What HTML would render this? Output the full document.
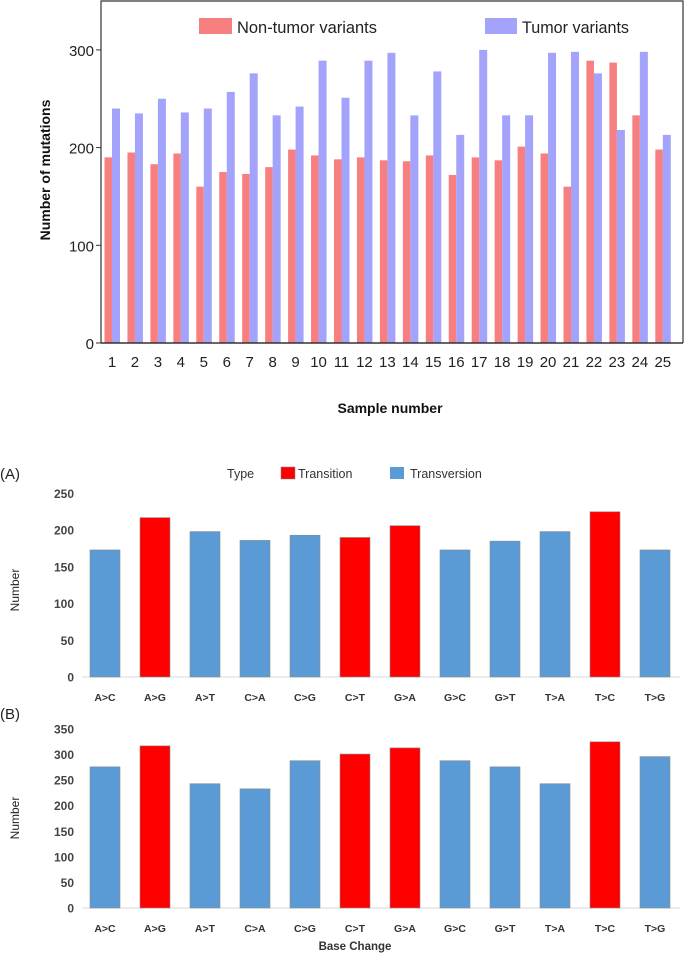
<!DOCTYPE html>
<html><head><meta charset="utf-8"><style>
html,body{margin:0;padding:0;background:#fff;}
svg{display:block;font-family:"Liberation Sans",sans-serif;}
</style></head><body>
<svg id="s" width="685" height="959" viewBox="0 0 685 959" xmlns="http://www.w3.org/2000/svg">
<g id="topchart">
<path d="M101,343 L101,1 L683,1 L683,343" fill="none" stroke="#333" stroke-width="1.2"/>
<rect x="199" y="18" width="33" height="16" fill="#f87f7f"/>
<text x="237" y="33" font-size="17" textLength="140" lengthAdjust="spacingAndGlyphs" fill="#222">Non-tumor variants</text>
<rect x="485" y="18" width="32" height="16" fill="#a3a3fb"/>
<text x="522" y="33" font-size="17" textLength="107" lengthAdjust="spacingAndGlyphs" fill="#222">Tumor variants</text>
<text transform="translate(50,170) rotate(-90)" text-anchor="middle" font-size="14" font-weight="bold" fill="#111">Number of mutations</text>
<text x="390" y="413" text-anchor="middle" font-size="14" font-weight="bold" fill="#111">Sample number</text>
</g>
<g id="ga">
<text x="0" y="479" font-size="15" fill="#222">(A)</text>
<text x="227" y="478" font-size="12.5" fill="#333">Type</text>
<rect x="281" y="467" width="14" height="12" fill="#ff0000" stroke="#888" stroke-width="0.5"/>
<text x="298" y="478" font-size="12.5" fill="#333">Transition</text>
<rect x="390" y="467" width="14" height="12" fill="#5b9bd5"/>
<text x="410" y="478" font-size="12.5" fill="#333">Transversion</text>
<text transform="translate(19,590) rotate(-90)" text-anchor="middle" font-size="12" fill="#222">Number</text>
</g>
<g id="gb">
<text x="0" y="719" font-size="15" fill="#222">(B)</text>
<text transform="translate(19,818) rotate(-90)" text-anchor="middle" font-size="12" fill="#222">Number</text>
<text x="355" y="950" text-anchor="middle" font-size="11.5" font-weight="bold" fill="#333">Base Change</text>
</g>
</svg>
<script>
const samples = ["1","2","3","4","5","6","7","8","9","10","11","12","13","14","15","16","17","18","19","20","21","22","23","24","25"];
const nonTumor = [190,195,183,194,160,175,173,180,198,192,188,190,187,186,192,172,190,187,201,194,160,289,287,233,198];
const tumor = [240,235,250,236,240,257,276,233,242,289,251,289,297,233,278,213,300,233,233,297,298,276,218,298,213];
const topTicks = [0,100,200,300];
const baseChanges = ["A>C","A>G","A>T","C>A","C>G","C>T","G>A","G>C","G>T","T>A","T>C","T>G"];
const isTransition = [false,true,false,false,false,true,true,false,false,false,true,false];
const countsA = [173,217,198,186,193,190,206,173,185,198,225,173];
const countsB = [276,317,243,233,288,301,313,288,276,243,325,296];
const ticksA = [0,50,100,150,200,250];
const ticksB = [0,50,100,150,200,250,300,350];

const NS = "http://www.w3.org/2000/svg";
function mk(parent, tag, attrs, text){
  const e = document.createElementNS(NS, tag);
  for (const k in attrs) e.setAttribute(k, attrs[k]);
  if (text !== undefined) e.textContent = text;
  parent.appendChild(e);
  return e;
}
const topG = document.getElementById('topchart');
const yTop = v => 343 - v * 0.977;
const xTop = i => 112 + i * 22.95;
topTicks.forEach(t => {
  const l = mk(topG,'line',{x1:96,x2:101,y1:yTop(t),y2:yTop(t),stroke:'#333'});
  
  
  const tx = mk(topG,'text',{x:94,y:yTop(t)+6,'text-anchor':'end','font-size':15,fill:'#222'}, String(t));
  
  
});
samples.forEach((s,i) => {
  const cx = xTop(i);
  const r = mk(topG,'rect',{x:cx-7.5,y:yTop(nonTumor[i]),width:7.5,height:343-yTop(nonTumor[i]),fill:'#f87f7f'});
  
  
  const b = mk(topG,'rect',{x:cx,y:yTop(tumor[i]),width:8,height:343-yTop(tumor[i]),fill:'#a3a3fb'});
  
  
  const t = mk(topG,'text',{x:cx,y:367,'text-anchor':'middle','font-size':15,fill:'#222'}, s);
  
  
});
const ax = mk(topG,'line',{x1:101,x2:683,y1:343,y2:343,stroke:'#333','stroke-width':1.5});



function bars(gid, counts, ticks, y0, pxPer, labelY){
  const g = document.getElementById(gid);
  const y = v => y0 - v * pxPer;
  const x = i => 105 + i * 50;
  ticks.forEach(t => {
    const tx = mk(g,'text',{x:74,y:y(t)+4.5,'text-anchor':'end','font-size':12,'font-weight':'bold',fill:'#444'}, String(t));
    
    
  });
  const a = mk(g,'line',{x1:82,x2:680,y1:y0,y2:y0,stroke:'#d9d9d9'});
  
  
  baseChanges.forEach((c,i) => {
    const r = mk(g,'rect',{x:x(i)-15,y:y(counts[i]),width:30,height:y0-y(counts[i]),fill:isTransition[i]?'#ff0000':'#5b9bd5',stroke:'#8a8a8a','stroke-width':0.6});
    
    
    const t = mk(g,'text',{x:x(i),y:labelY,'text-anchor':'middle','font-size':10.5,'font-weight':'bold',fill:'#333'}, c);
    
    
  });
}
bars('ga', countsA, ticksA, 677, 0.7344, 701);
bars('gb', countsB, ticksB, 908, 0.5114, 932);
</script>
</body></html>
